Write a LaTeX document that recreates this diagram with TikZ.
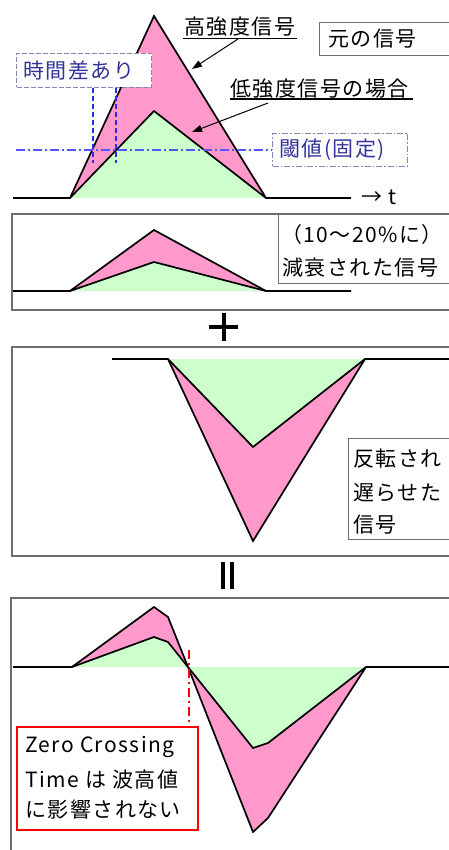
\documentclass[tikz,border=0pt]{standalone}
\usepackage{fontspec}
\setmainfont{Noto Sans CJK JP}
\newfontfamily\jp[LetterSpace=7]{Noto Sans CJK JP}
\usetikzlibrary{arrows.meta}
\definecolor{pinkf}{HTML}{FF99CC}
\definecolor{greenf}{HTML}{CCFFCC}
\definecolor{frameg}{HTML}{6E6E6E}
\definecolor{navy}{HTML}{333399}
\definecolor{bline}{HTML}{2A2AF0}
\definecolor{thrline}{HTML}{5555FF}
\definecolor{boxb}{HTML}{8585B5}
\begin{document}
\begin{tikzpicture}[x=1pt,y=-1pt,
  sig/.style={line width=1.7pt, black, line join=miter},
  pinkfill/.style={fill=pinkf, draw=none},
  greenfill/.style={fill=greenf, draw=none},
  frame/.style={draw=frameg, line width=1.4pt},
  txt/.style={font=\jp\fontsize{21}{24}\selectfont, inner sep=0pt, anchor=west},
  bluetxt/.style={txt, text=navy},
  uline/.style={line width=1.8pt, black},
  arr/.style={line width=1pt, -{Triangle[length=10pt,width=7pt]}},
  dashbox/.style={draw=boxb, fill=white, line width=1pt, dash pattern=on 5pt off 2pt},
  dashdotbox/.style={draw=boxb, fill=white, line width=1pt, dash pattern=on 6pt off 2pt on 1.5pt off 2pt},
  vdash/.style={draw=bline, line width=1.7pt, dash pattern=on 5pt off 3pt},
  thr/.style={draw=thrline, line width=1.4pt, dash pattern=on 9pt off 3pt on 2pt off 3pt},
  zc/.style={draw=red, line width=1.6pt, dash pattern=on 9pt off 4pt on 2pt off 4pt},
  sym/.style={line width=3.2pt, black}
]
\clip (0,0) rectangle (449,850);
\fill[white] (0,0) rectangle (449,850);

%%%%% Panel 1 : original signal
\fill[pinkfill] (70,198) -- (154,16) -- (266,198) -- cycle;
\fill[greenfill] (70,198) -- (154,111) -- (266,198) -- cycle;
\draw[sig] (13,198) -- (70,198) -- (154,16) -- (266,198) -- (351,198);
\draw[sig] (70,198) -- (154,111) -- (266,198);
\node[txt] (tlab) at (361,197) {→ t};

% high / low labels
\node[txt] (hi) at (184,27) {高強度信号};
\draw[uline] (183,38.5) -- (297,38.5);
\coordinate (hiS) at (238,39);
\coordinate (hiE) at (192,69);
\draw[arr] (hiS) -- (hiE);

\node[txt] (lo) at (230,89) {低強度信号の場合};
\draw[uline] (230,99) -- (413,99);
\coordinate (loS) at (268,103);
\coordinate (loE) at (192,132);
\draw[arr] (loS) -- (loE);

% original box
\node[frame, fill=white, anchor=north west, minimum width=150, minimum height=33, inner sep=0pt] (origbox) at (319,22) {};
\node[txt] (orig) at (328,39) {元の信号};

% time difference
\node[dashbox, anchor=north west, minimum width=135, minimum height=34, inner sep=0pt] (tdbox) at (16,53) {};
\node[bluetxt] (td) at (23,71) {時間差あり};
\coordinate (v1b) at (93,163);
\coordinate (v2b) at (116,163);
\draw[vdash] (tdbox.south -| v1b) -- (v1b);
\draw[vdash] (tdbox.south -| v2b) -- (v2b);

% threshold
\node[dashdotbox, anchor=north west, minimum width=135, minimum height=33, inner sep=0pt] (thbox) at (272,133) {};
\node[bluetxt] (th) at (279,150) {閾値(固定)};
\coordinate (thL) at (16,150);
\draw[thr] (thL) -- (thbox.west);

%%%%% Panel 2 : attenuated
\draw[frame] (12,214) rectangle (470,310);
\fill[pinkfill] (70,291) -- (154,230) -- (266,291) -- cycle;
\fill[greenfill] (70,291) -- (154,262) -- (266,291) -- cycle;
\draw[sig] (13,291) -- (70,291) -- (154,230) -- (266,291) -- (351,291);
\draw[sig] (70,291) -- (154,262) -- (266,291);
\node[frame, fill=white, anchor=north west, minimum width=190, minimum height=69, inner sep=0pt] (attbox) at (278,214) {};
\node[txt] (att1) at (281,235) {（10～20\%に）};
\node[txt] (att2) at (282,268) {減衰された信号};

% plus
\draw[sym] (209,327) -- (238,327);
\draw[sym] (224,313) -- (224,341);

%%%%% Panel 3 : inverted delayed
\draw[frame] (12,347) rectangle (470,556);
\fill[pinkfill] (168,359) -- (253,541) -- (365,359) -- cycle;
\fill[greenfill] (168,359) -- (253,447) -- (365,359) -- cycle;
\draw[sig] (112,359) -- (168,359) -- (253,541) -- (365,359) -- (460,359);
\draw[sig] (168,359) -- (253,447) -- (365,359);
\node[frame, fill=white, anchor=north west, minimum width=120, minimum height=101, inner sep=0pt] (invbox) at (348,438) {};
\node[txt] (inv1) at (353,459) {反転され};
\node[txt] (inv2) at (353,493) {遅らせた};
\node[txt] (inv3) at (353,525) {信号};

% equals (vertical)
\draw[line width=4pt] (222.5,562) -- (222.5,589);
\draw[line width=4pt] (232,562) -- (232,589);

%%%%% Panel 4 : sum
\draw[frame] (470,598) -- (11,598) -- (11,860);
% green fills
\fill[greenfill] (72,667) -- (154,637) -- (168,642) -- (188,667) -- cycle;
\fill[greenfill] (188,667) -- (253,748) -- (268,743) -- (366,667) -- cycle;
% pink fills
\fill[pinkfill] (72,667) -- (154,607) -- (168,617) -- (188,667) -- (168,642) -- (154,637) -- cycle;
\fill[pinkfill] (188,667) -- (253,832) -- (268,818) -- (366,667) -- (268,743) -- (253,748) -- cycle;
\draw[sig] (13,667) -- (72,667) -- (154,607) -- (168,617) -- (188,667) -- (253,832) -- (268,818) -- (366,667) -- (460,667);
\draw[sig] (72,667) -- (154,637) -- (168,642) -- (188,667) -- (253,748) -- (268,743) -- (366,667);

% zero crossing box
\node[draw=red, line width=1.8pt, fill=white, anchor=north west, minimum width=181, minimum height=103, inner sep=0pt] (zcbox) at (16,726) {};
\coordinate (zcT) at (189,650);
\draw[zc] (zcT) -- (zcT |- zcbox.north);
\node[txt] (zc1) at (25,747) {Zero\hspace{6pt}Crossing};
\node[txt] (zc2) at (25,780) {Time は 波高値};
\node[txt] (zc3) at (25,810) {に影響されない};
\end{tikzpicture}
\end{document}
